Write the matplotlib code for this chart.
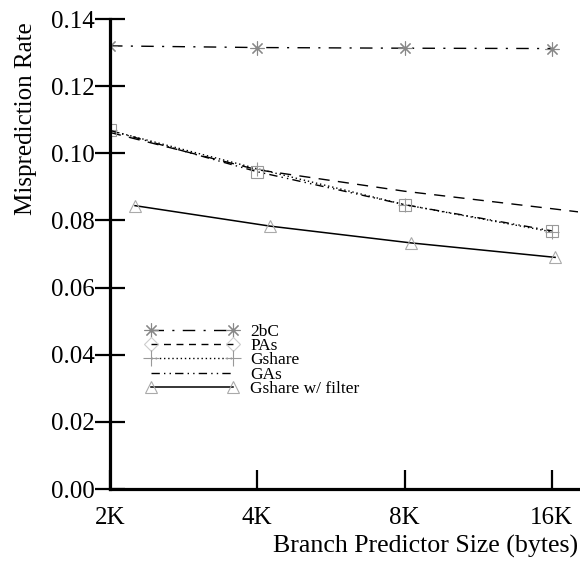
import matplotlib
matplotlib.use('Agg')
import matplotlib.pyplot as plt
from matplotlib.lines import Line2D

plt.rcParams['font.family'] = ['Liberation Serif', 'DejaVu Serif']

# predictor sizes in KB
sizes = [2, 4, 8, 16]
pas_sizes = [2, 4, 8, 16, 32]
filter_sizes = [2.25, 4.25, 8.25, 16.25]
xtick_labels = ['2K', '4K', '8K', '16K']

rate_2bc = [0.1320, 0.1315, 0.1313, 0.1312]
rate_pas = [0.1062, 0.0951, 0.0887, 0.0835, 0.0782]
rate_gshare = [0.1068, 0.0954, 0.0847, 0.0766]
rate_gas = [0.1068, 0.0945, 0.0847, 0.0769]
rate_filter = [0.0844, 0.0783, 0.0733, 0.0690]

fig = plt.figure(figsize=(5.8, 5.61), dpi=100)
ax = fig.add_axes([110/580, 1 - 489/561, 468/580, 470/561])

ax.plot(sizes, rate_2bc, color='black', lw=1.0, dashes=(9, 6, 1.5, 6),
        marker=(8, 2, 0), ms=10, mec='#888888', mew=0.8)
ax.plot(pas_sizes, rate_pas, color='black', lw=1.0, dashes=(8, 6))
ax.plot(sizes, rate_gshare, color='black', lw=1.0, dashes=(1, 2),
        marker='+', ms=10, mec='#999999', mew=0.8)
ax.plot(sizes, rate_gas, color='black', lw=1.0, dashes=(6, 3, 1, 3, 1, 3),
        marker='s', ms=8.5, mfc='none', mec='#999999', mew=0.8)
ax.plot(filter_sizes, rate_filter, color='black', lw=1.1,
        marker='^', ms=9, mfc='none', mec='#aaaaaa', mew=0.8)

ax.set_xscale('log', base=2)
ax.set_xlim(2, 18.1)
ax.set_ylim(0, 0.14)
ax.set_xticks(sizes)
ax.set_xticklabels(xtick_labels)
ax.minorticks_off()
ax.set_yticks([0, 0.02, 0.04, 0.06, 0.08, 0.10, 0.12, 0.14])
ax.set_yticklabels(['%.2f' % v for v in ax.get_yticks()])

for s in ['top', 'right']:
    ax.spines[s].set_visible(False)
for s in ['left', 'bottom']:
    ax.spines[s].set_linewidth(2.3)

ax.tick_params(axis='x', direction='in', length=14, width=1.6, pad=13, labelsize=18)
ax.tick_params(axis='y', direction='inout', length=22, width=1.6, pad=0, labelsize=18)

ax.set_ylabel('Misprediction Rate', fontsize=18)
ax.yaxis.set_label_coords(-0.155, 0.789)
ax.set_xlabel('Branch Predictor Size (bytes)', fontsize=18.6, loc='right')
ax.xaxis.set_label_coords(1.0, -0.098)

handles = [
    Line2D([], [], color='black', lw=1.0, dashes=(9, 6, 1.5, 6),
           marker=(8, 2, 0), ms=10, mec='#888888', mew=0.8),
    Line2D([], [], color='black', lw=1.0, dashes=(5, 4),
           marker='D', ms=7, mfc='none', mec='#cccccc', mew=0.8),
    Line2D([], [], color='black', lw=1.0, dashes=(1, 2),
           marker='+', ms=12, mec='#999999', mew=0.8),
    Line2D([], [], color='black', lw=1.0, dashes=(6, 3, 1, 3, 1, 3)),
    Line2D([], [], color='black', lw=1.1,
           marker='^', ms=9, mfc='none', mec='#aaaaaa', mew=0.8),
]
labels = ['2bC', 'PAs', 'Gshare', 'GAs', 'Gshare w/ filter']
ax.legend(handles, labels, loc='upper left', bbox_to_anchor=(0.057, 0.370),
          frameon=False, numpoints=2, fontsize=12.5, handlelength=5.37,
          handletextpad=0.68, labelspacing=-0.11, borderpad=0)

fig.savefig('out.png', dpi=100)
